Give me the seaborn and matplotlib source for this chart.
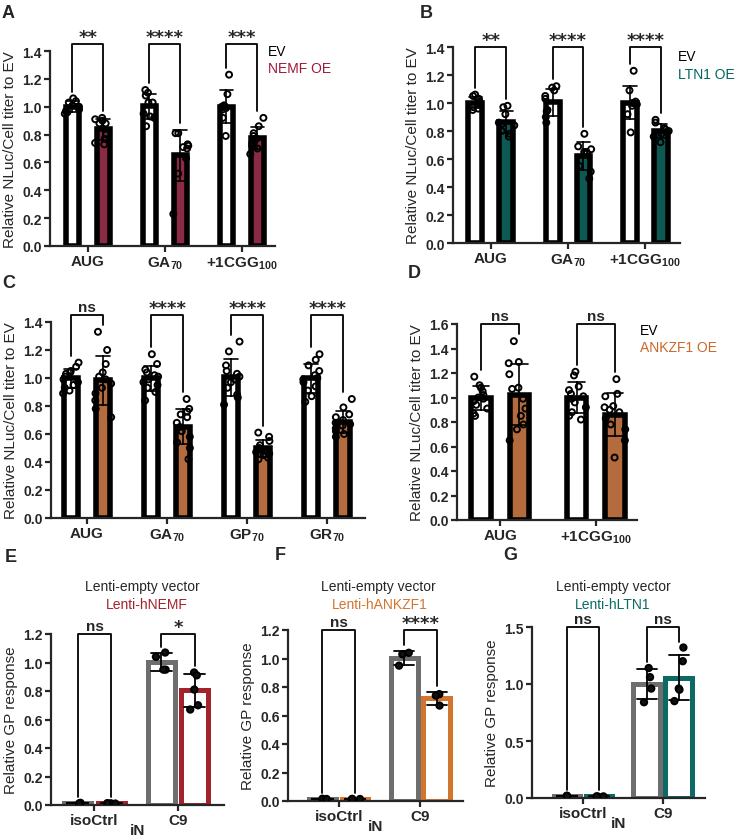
import numpy as np
import pandas as pd
import matplotlib
matplotlib.use('Agg')
import matplotlib.pyplot as plt
import seaborn as sns
from matplotlib.ticker import FormatStrFormatter

sns.set_style('ticks')
plt.rcParams['font.family'] = ['Liberation Sans', 'DejaVu Sans']
plt.rcParams['mathtext.default'] = 'regular'
np.random.seed(3)  # only for the horizontal jitter of the dots

# ---- data ----
# A: NEMF overexpression
a_cats = ['AUG', 'GA$_{70}$', '+1CGG$_{100}$']
a_ev = [[1.06, 1.04, 1.03, 1.01, 1.00, 0.98, 0.97, 0.96, 0.95],
        [1.12, 1.10, 1.08, 1.03, 1.03, 0.95, 0.93, 0.92, 0.86],
        [1.23, 1.09, 1.01, 1.00, 1.00, 0.99, 0.98, 0.92, 0.79]]
a_oe = [[0.92, 0.91, 0.90, 0.88, 0.88, 0.80, 0.77, 0.74, 0.73],
        [0.81, 0.81, 0.73, 0.72, 0.71, 0.70, 0.63, 0.52, 0.23],
        [0.92, 0.86, 0.81, 0.79, 0.77, 0.74, 0.72, 0.70, 0.66]]
a_sig = ['**', '****', '***']

# B: LTN1 overexpression
b_cats = ['AUG', 'GA$_{70}$', '+1CGG$_{100}$']
b_ev = [[1.06, 1.05, 1.03, 1.01, 1.00, 0.99, 0.97, 0.96, 0.95],
        [1.12, 1.11, 1.09, 1.05, 1.03, 0.95, 0.94, 0.90, 0.86],
        [1.23, 1.09, 1.01, 1.00, 1.00, 0.99, 0.98, 0.92, 0.79]]
b_oe = [[0.98, 0.97, 0.92, 0.86, 0.85, 0.84, 0.80, 0.78, 0.76],
        [0.78, 0.69, 0.67, 0.65, 0.65, 0.64, 0.55, 0.51, 0.46],
        [0.88, 0.86, 0.82, 0.81, 0.80, 0.79, 0.78, 0.76, 0.72]]
b_sig = ['**', '****', '****']

# C: ANKZF1 overexpression, four reporters
c_cats = ['AUG', 'GA$_{70}$', 'GP$_{70}$', 'GR$_{70}$']
c_ev = [[1.11, 1.08, 1.05, 1.04, 1.03, 1.01, 0.99, 0.97, 0.95, 0.93, 0.91, 0.89],
        [1.17, 1.10, 1.06, 1.04, 1.02, 1.01, 0.99, 0.97, 0.95, 0.93, 0.90, 0.84],
        [1.26, 1.19, 1.09, 1.05, 1.03, 1.01, 0.99, 0.97, 0.93, 0.88, 0.86, 0.81],
        [1.17, 1.13, 1.09, 1.05, 1.02, 1.00, 0.99, 0.97, 0.94, 0.91, 0.87, 0.83]]
c_oe = [[1.33, 1.20, 1.10, 1.04, 1.01, 0.99, 0.96, 0.93, 0.89, 0.84, 0.78, 0.72],
        [0.85, 0.78, 0.76, 0.74, 0.72, 0.68, 0.65, 0.62, 0.58, 0.54, 0.50, 0.42],
        [0.61, 0.58, 0.55, 0.52, 0.50, 0.49, 0.48, 0.47, 0.46, 0.45, 0.43, 0.42],
        [0.85, 0.79, 0.74, 0.72, 0.70, 0.68, 0.67, 0.66, 0.64, 0.62, 0.60, 0.58]]
c_sig = ['ns', '****', '****', '****']

# D: ANKZF1 overexpression, two reporters
d_cats = ['AUG', '+1CGG$_{100}$']
d_ev = [[1.17, 1.10, 1.08, 1.05, 1.02, 1.00, 0.99, 0.97, 0.94, 0.91, 0.87, 0.85],
        [1.21, 1.18, 1.09, 1.06, 1.03, 1.01, 0.99, 0.96, 0.92, 0.88, 0.85, 0.82]]
d_oe = [[1.46, 1.29, 1.28, 1.19, 1.08, 1.07, 0.99, 0.91, 0.85, 0.78, 0.74, 0.65],
        [1.15, 1.03, 1.01, 0.93, 0.92, 0.90, 0.88, 0.83, 0.78, 0.74, 0.65, 0.51]]
d_sig = ['ns', 'ns']

# E-G: iN GP response
gp_cats = ['isoCtrl', 'C9']
e_ev = [[0.015, 0.012], [1.07, 1.04, 0.95, 0.95]]
e_oe = [[0.012, 0.010, 0.013], [0.93, 0.91, 0.81, 0.70, 0.67]]
e_sig = ['ns', '*']
f_ev = [[0.016, 0.014], [1.04, 1.03, 0.95]]
f_oe = [[0.014, 0.012, 0.015], [0.75, 0.74, 0.67]]
f_sig = ['ns', '****']
g_ev = [[0.020, 0.018], [1.14, 1.06, 0.96, 0.84]]
g_oe = [[0.012, 0.015, 0.014], [1.32, 1.20, 0.96, 0.95, 0.85]]
g_sig = ['ns', 'ns']

NEMF = '#9B1B3B'
LTN1 = '#00665F'
ANKZF1 = '#C8682A'
E_RED = '#A3232C'
F_ORANGE = '#D2752F'
G_TEAL = '#0B6A66'
GRAY = '#6E6E6E'

W, H = 735, 837
fig = plt.figure(figsize=(W / 100, H / 100), dpi=100)


def add_ax(x0, x1, y_top, y_bot):
    return fig.add_axes([x0 / W, 1 - y_bot / H, (x1 - x0) / W, (y_bot - y_top) / H])


def ftext(x, y, s, **kw):
    kw.setdefault('va', 'center')
    fig.text(x / W, 1 - y / H, s, **kw)


def to_long(cats, ev, oe):
    rows = []
    for c, e_vals, o_vals in zip(cats, ev, oe):
        rows += [(c, 'EV', v) for v in e_vals]
        rows += [(c, 'OE', v) for v in o_vals]
    return pd.DataFrame(rows, columns=['cat', 'grp', 'val'])


def draw_panel(ax, cats, ev, oe, color, sig, ymax, ystep, br_top, gap, capsize,
               xlim, ylabel, line_art=False, xlabel='', jitter=0.22):
    df = to_long(cats, ev, oe)
    if line_art:
        sns.barplot(df, x='cat', y='val', hue='grp', order=cats, hue_order=['EV', 'OE'],
                    palette=[GRAY, color], fill=False, linewidth=3.6, gap=gap,
                    errorbar='sd', capsize=capsize,
                    err_kws={'color': 'black', 'linewidth': 1.3}, legend=False, ax=ax)
        dot_face = ['#111111', '#111111']
    else:
        sns.barplot(df, x='cat', y='val', hue='grp', order=cats, hue_order=['EV', 'OE'],
                    palette=['white', color], edgecolor='black', linewidth=4, gap=gap,
                    errorbar='sd', capsize=capsize,
                    err_kws={'color': 'black', 'linewidth': 1.2}, legend=False, ax=ax)
        dot_face = ['white', 'white']
    n0 = len(ax.collections)
    sns.stripplot(df, x='cat', y='val', hue='grp', order=cats, hue_order=['EV', 'OE'],
                  dodge=True, jitter=jitter, palette=dot_face, edgecolor='black',
                  linewidth=1.4, size=4.6 if line_art else 4.3,
                  legend=False, zorder=4, ax=ax)
    if not line_art:
        for coll in ax.collections[n0:]:
            coll.set_facecolor('none')

    # significance brackets
    leg_gap = 0.035 * ymax
    for i, s in enumerate(sig):
        x1, x2 = i - 0.2, i + 0.2
        ends = []
        for vals in (ev[i], oe[i]):
            m, sd = np.mean(vals), np.std(vals, ddof=1)
            ends.append(max(max(vals), m + sd) + leg_gap)
        ax.plot([x1, x1, x2, x2], [ends[0], br_top, br_top, ends[1]],
                color='black', lw=1.3, clip_on=False, zorder=5)
        if '*' in s:
            ax.annotate(s, (i, br_top), xytext=(0, 1.5), textcoords='offset points',
                        ha='center', va='baseline', fontsize=13, fontweight='bold',
                        family='DejaVu Sans', annotation_clip=False)
        else:
            ax.annotate(s, (i, br_top), xytext=(0, 3), textcoords='offset points',
                        ha='center', va='baseline', fontsize=11, fontweight='bold',
                        annotation_clip=False)

    ax.set_xlim(*xlim)
    ax.set_ylim(0, ymax)
    ax.set_yticks(np.round(np.arange(0, ymax + 1e-6, ystep), 2))
    ax.yaxis.set_major_formatter(FormatStrFormatter('%.1f'))
    ax.set_xticks(range(len(cats)))
    ax.set_xticklabels(cats)
    for s in ['top', 'right']:
        ax.spines[s].set_visible(False)
    for s in ['left', 'bottom']:
        ax.spines[s].set_linewidth(1.6)
    ax.tick_params(axis='both', width=1.6, length=4, pad=2)
    ax.tick_params(axis='y', labelsize=10)
    ax.tick_params(axis='x', labelsize=11)
    for lab in ax.get_xticklabels() + ax.get_yticklabels():
        lab.set_fontweight('bold')
    ax.set_ylabel(ylabel, fontsize=11)
    ax.set_xlabel(xlabel, fontsize=11, fontweight='bold', labelpad=-3)


nluc = 'Relative NLuc/Cell titer to EV'
gp = 'Relative GP response'

ax_a = add_ax(50, 275, 52, 247)
draw_panel(ax_a, a_cats, a_ev, a_oe, NEMF, a_sig, 1.4, 0.2, 1.45, 0.58, 0.35,
           (-0.49, 2.43), nluc)
ax_b = add_ax(453, 680, 48, 244)
draw_panel(ax_b, b_cats, b_ev, b_oe, LTN1, b_sig, 1.4, 0.2, 1.40, 0.55, 0.35,
           (-0.49, 2.45), nluc)
ax_c = add_ax(51, 365, 323, 519)
draw_panel(ax_c, c_cats, c_ev, c_oe, ANKZF1, c_sig, 1.4, 0.2, 1.45, 0.56, 0.35,
           (-0.45, 3.47), nluc)
ax_d = add_ax(457, 637, 325, 521)
draw_panel(ax_d, d_cats, d_ev, d_oe, ANKZF1, d_sig, 1.6, 0.2, 1.60, 0.5, 0.35,
           (-0.45, 1.43), nluc)
ax_e = add_ax(51, 224, 635, 806)
draw_panel(ax_e, gp_cats, e_ev, e_oe, E_RED, e_sig, 1.2, 0.2, 1.2, 0.2, 0.5,
           (-0.52, 1.55), gp, line_art=True, xlabel='iN', jitter=0.14)
ax_f = add_ax(288, 463, 631, 802)
draw_panel(ax_f, gp_cats, f_ev, f_oe, F_ORANGE, f_sig, 1.2, 0.2, 1.2, 0.18, 0.5,
           (-0.62, 1.52), gp, line_art=True, xlabel='iN', jitter=0.14)
ax_g = add_ax(532, 705, 628, 799)
draw_panel(ax_g, gp_cats, g_ev, g_oe, G_TEAL, g_sig, 1.5, 0.5, 1.5, 0.16, 0.5,
           (-0.64, 1.53), gp, line_art=True, xlabel='iN', jitter=0.14)

# legends
ftext(268, 52, 'EV', fontsize=10, color='black')
ftext(268, 69, 'NEMF OE', fontsize=10, color=NEMF)
ftext(678, 57, 'EV', fontsize=10, color='black')
ftext(678, 75, 'LTN1 OE', fontsize=10, color=LTN1)
ftext(640, 331, 'EV', fontsize=10, color='black')
ftext(640, 348, 'ANKZF1 OE', fontsize=10, color=ANKZF1)

# titles of E-G
ftext(142, 587, 'Lenti-empty vector', fontsize=10, ha='center')
ftext(147, 605, 'Lenti-hNEMF', fontsize=10, ha='center', color=E_RED)
ftext(378, 587, 'Lenti-empty vector', fontsize=10, ha='center')
ftext(380, 605, 'Lenti-hANKZF1', fontsize=10, ha='center', color=F_ORANGE)
ftext(613, 587, 'Lenti-empty vector', fontsize=10, ha='center')
ftext(613, 605, 'Lenti-hLTN1', fontsize=10, ha='center', color=G_TEAL)

# panel letters
for lx, ly, letter in [(2, 13, 'A'), (420, 13, 'B'), (2, 284, 'C'), (408, 274, 'D'),
                       (5, 557, 'E'), (275, 555, 'F'), (503, 555, 'G')]:
    ftext(lx, ly, letter, fontsize=13, fontweight='bold')

fig.savefig('out.png', dpi=100)
